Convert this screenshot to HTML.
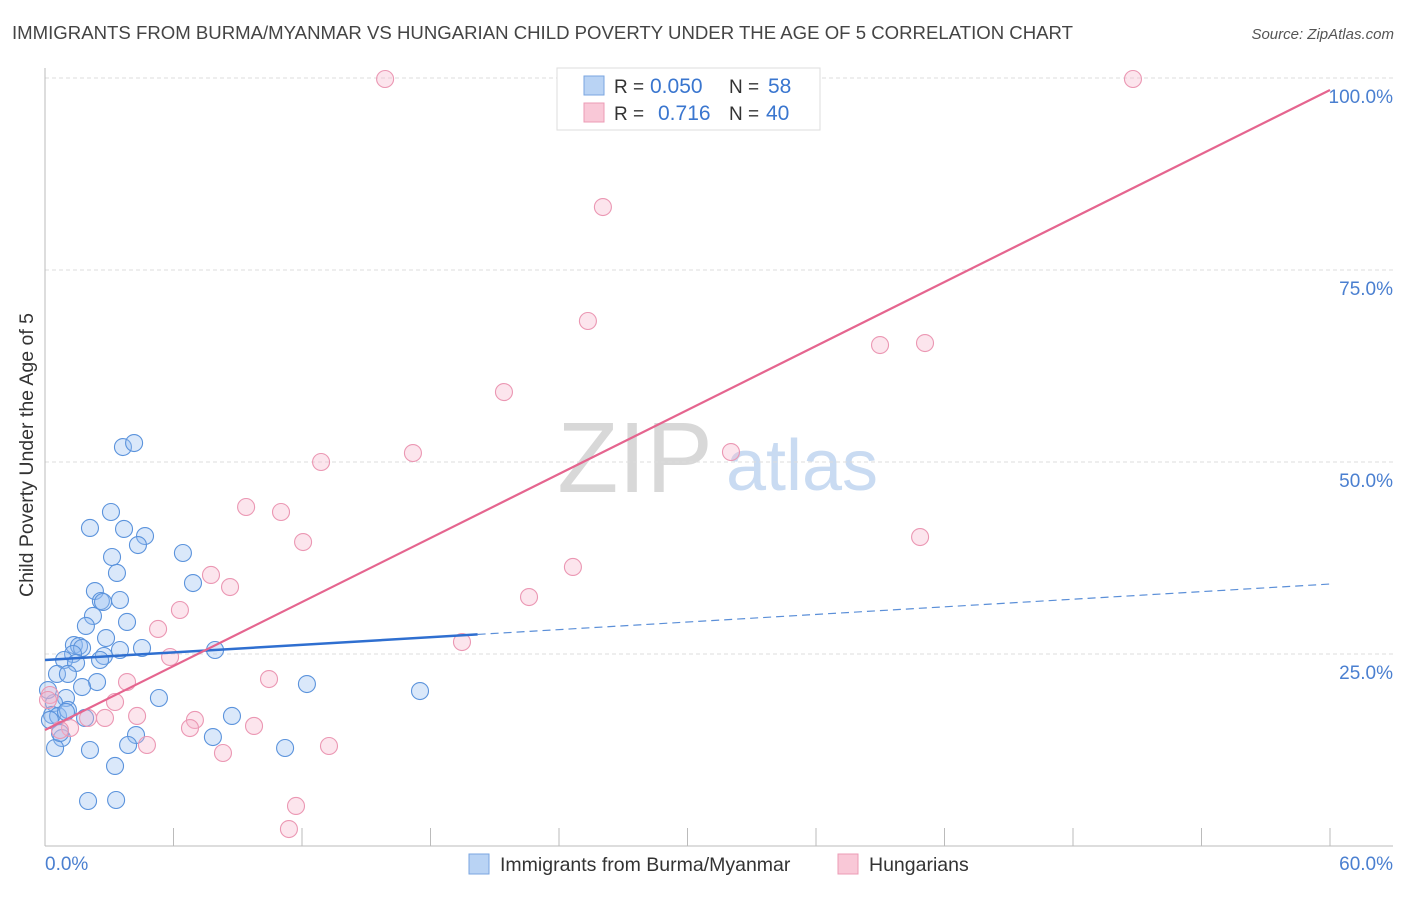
<!DOCTYPE html>
<html><head><meta charset="utf-8">
<style>
body{margin:0;background:#fff;font-family:"Liberation Sans",sans-serif;}
svg text{font-family:"Liberation Sans",sans-serif;}
</style></head>
<body>
<svg id="chart" width="1406" height="892" viewBox="0 0 1406 892" xmlns="http://www.w3.org/2000/svg">
<text x="12" y="39" font-size="18.6" fill="#444">IMMIGRANTS FROM BURMA/MYANMAR VS HUNGARIAN CHILD POVERTY UNDER THE AGE OF 5 CORRELATION CHART</text>
<text x="1394" y="39" font-size="15" fill="#555" text-anchor="end" font-style="italic">Source: ZipAtlas.com</text>
<g>
<text x="635" y="492" font-size="100" fill="#d8d8d8" font-family="Liberation Serif,serif" text-anchor="middle">ZIP</text>
<text x="802" y="490" font-size="72" fill="#c9dbf2" text-anchor="middle">atlas</text>
</g>
<g id="grid"></g>
<g id="axes"></g>
<text transform="translate(33,455) rotate(-90)" font-size="19.5" fill="#333" text-anchor="middle">Child Poverty Under the Age of 5</text>
<g id="marks"></g>
<g id="lines"></g>
<g>
<rect x="557" y="68" width="263" height="62" fill="#fff" stroke="#ddd"/>
<rect x="584" y="76" width="20" height="19" fill="#b9d3f4" stroke="#7aa6e0"/>
<rect x="584" y="103" width="20" height="19" fill="#f9c8d7" stroke="#ec9bb5"/>
<text x="614" y="93" font-size="19" fill="#333">R = </text><text x="650" y="93" font-size="21" fill="#3a76cf">0.050</text>
<text x="729" y="93" font-size="19" fill="#333">N = </text><text x="768" y="93" font-size="21" fill="#3a76cf">58</text>
<text x="614" y="120" font-size="19" fill="#333">R = </text><text x="658" y="120" font-size="21" fill="#3a76cf">0.716</text>
<text x="729" y="120" font-size="19" fill="#333">N = </text><text x="766" y="120" font-size="21" fill="#3a76cf">40</text>
</g>
<g>
<rect x="469" y="854" width="20" height="20" fill="#b9d3f4" stroke="#7aa6e0"/>
<text x="500" y="871" font-size="19.5" fill="#333">Immigrants from Burma/Myanmar</text>
<rect x="838" y="854" width="20" height="20" fill="#f9c8d7" stroke="#ec9bb5"/>
<text x="869" y="871" font-size="19.5" fill="#333">Hungarians</text>
</g>
</svg>
<script>
const xTickLabels=["0.0%","60.0%"];
const yTicks=[25,50,75,100];
const yTickLabels=["25.0%","50.0%","75.0%","100.0%"];
const blueX=[3.64,4.16,3.08,2.10,3.69,4.67,4.34,3.13,3.36,6.44,6.91,2.33,2.61,2.71,3.50,2.24,1.91,3.83,2.85,1.35,1.59,1.73,4.53,3.50,7.94,1.31,2.75,0.89,2.57,1.45,0.56,1.07,2.43,1.73,12.23,17.51,5.32,0.98,0.42,0.33,0.61,1.07,1.87,8.73,7.84,4.25,3.88,0.79,0.47,2.10,3.27,2.01,3.32,11.21,0.23,0.70,0.14,0.98];
const blueY=[51.95,52.47,43.49,41.41,41.28,40.36,39.19,37.63,35.55,38.15,34.24,33.20,31.90,31.77,32.03,29.95,28.65,29.17,27.08,26.17,26.04,25.78,25.78,25.52,25.52,25.00,24.74,24.22,24.22,23.83,22.40,22.40,21.35,20.70,21.09,20.18,19.27,19.27,18.62,17.06,16.93,17.71,16.67,16.93,14.19,14.45,13.15,14.06,12.76,12.50,10.42,5.86,5.99,12.76,16.41,14.71,20.31,17.45];
const pinkX=[15.88,50.80,26.05,25.35,38.99,41.09,21.43,32.03,17.18,12.89,9.39,11.02,12.05,40.86,7.75,8.64,24.65,22.60,6.30,5.28,5.84,19.47,3.83,10.46,3.27,0.23,4.30,2.80,7.00,6.77,9.76,8.31,4.76,13.26,11.72,11.39,1.17,0.70,2.01,0.14];
const pinkY=[99.87,99.87,83.20,68.36,65.23,65.49,59.11,51.30,51.17,50.00,44.14,43.49,39.58,40.23,35.29,33.72,36.33,32.42,30.73,28.26,24.61,26.56,21.35,21.74,18.75,19.66,16.93,16.67,16.41,15.36,15.63,12.11,13.15,13.02,5.21,2.21,15.36,15.10,16.67,19.01];
const blueTrend=[24.22,34.11];
const blueSolidEnd=20.2;
const pinkTrend=[15.10,98.44];

const NS="http://www.w3.org/2000/svg";
const X0=45,X1=1330,Y0=846,Y100=78;
const sx=v=>X0+(v/60)*(X1-X0);
const sy=v=>Y0-(v/100)*(Y0-Y100);
function mk(tag,attrs,parent){const e=document.createElementNS(NS,tag);for(const k in attrs)e.setAttribute(k,attrs[k]);parent.appendChild(e);return e;}
const grid=document.getElementById('grid'),axes=document.getElementById('axes'),marks=document.getElementById('marks'),lines=document.getElementById('lines');
yTicks.forEach((t,i)=>{
  const l=mk('line',{x1:X0,x2:1393,y1:sy(t),y2:sy(t),stroke:'#ddd','stroke-dasharray':'4,3'},grid);
  
  
  const tx=mk('text',{x:1393,y:sy(t)+25,'font-size':19,fill:'#4a7fd0','text-anchor':'end'},grid);
  tx.textContent=yTickLabels[i];
  
  
});
const la=mk('line',{x1:X0,x2:X0,y1:68,y2:Y0,stroke:'#bbb'},axes);


const xa=mk('line',{x1:X0,x2:1393,y1:Y0,y2:Y0,stroke:'#bbb'},axes);


for(let i=1;i<=10;i++){
  const v=i*6;
  const t=mk('line',{x1:sx(v),x2:sx(v),y1:828,y2:Y0,stroke:'#bbb'},axes);
  
  
}
const xl0=mk('text',{x:45,y:870,'font-size':19,fill:'#4a7fd0'},axes);xl0.textContent=xTickLabels[0];


const xl1=mk('text',{x:1393,y:870,'font-size':19,fill:'#4a7fd0','text-anchor':'end'},axes);xl1.textContent=xTickLabels[1];



blueX.forEach((x,i)=>{
  const c=mk('circle',{cx:sx(x),cy:sy(blueY[i]),r:8.5,fill:'rgba(150,190,240,0.35)',stroke:'#5b93dc','stroke-width':1.1},marks);
  
  
});
pinkX.forEach((x,i)=>{
  const c=mk('circle',{cx:sx(x),cy:sy(pinkY[i]),r:8.5,fill:'rgba(246,180,203,0.35)',stroke:'#eb97b3','stroke-width':1.1},marks);
  
  
});
const bAt=x=>blueTrend[0]+(blueTrend[1]-blueTrend[0])*x/60;
const b1=mk('line',{x1:sx(0),y1:sy(bAt(0)),x2:sx(blueSolidEnd),y2:sy(bAt(blueSolidEnd)),stroke:'#2f6fd0','stroke-width':2.5},lines);


const b2=mk('line',{x1:sx(blueSolidEnd),y1:sy(bAt(blueSolidEnd)),x2:sx(60),y2:sy(bAt(60)),stroke:'#5b8fd8','stroke-width':1.2,'stroke-dasharray':'8,5'},lines);


const p1=mk('line',{x1:sx(0),y1:sy(pinkTrend[0]),x2:sx(60),y2:sy(pinkTrend[1]),stroke:'#e5658f','stroke-width':2.2},lines);


</script>
</body></html>
